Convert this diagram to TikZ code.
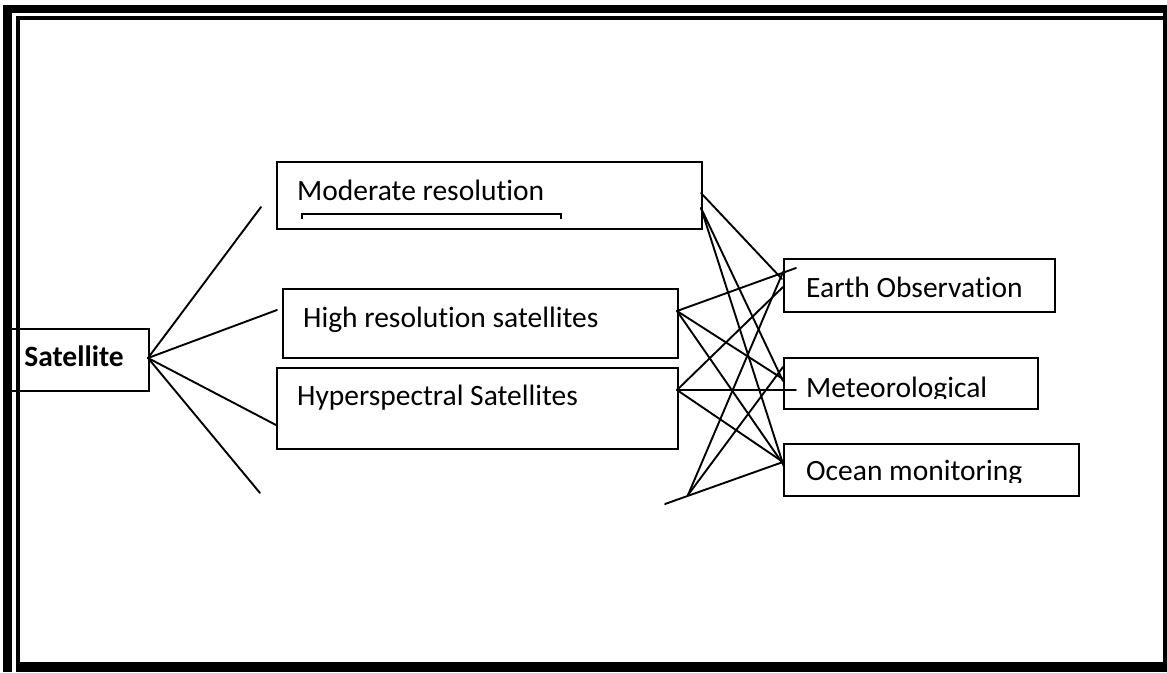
\documentclass[tikz,border=0pt]{standalone}
\usepackage{fontspec}
\setmainfont{Carlito}[Ligatures={NoCommon}]
\begin{document}
\begin{tikzpicture}[x=1pt,y=-1pt,
  box/.style={draw, line width=2pt, rectangle, inner sep=0pt, anchor=north west},
  lbl/.style={anchor=base west, inner sep=0pt, font=\fontsize{29.5}{33}\selectfont},
  wire/.style={line width=1.9pt, line cap=round}]
\useasboundingbox (0,0) rectangle (1167,672);

% double page frame
\fill (3,5) rectangle (12,672);
\fill (3,5) rectangle (1167,13);
\fill (1163,5) rectangle (1167,672);
\fill (16,16) rectangle (20,662);
\fill (16,16) rectangle (1167,20);
\fill (16,662) rectangle (1167,672);

% boxes
\node[box, minimum width=144pt, minimum height=62pt] (sat) at (4,328) {};
\node[box, minimum width=425pt, minimum height=67pt] (mod) at (276,161) {};
\node[box, minimum width=395pt, minimum height=69pt] (high) at (282,288) {};
\node[box, minimum width=401pt, minimum height=81pt] (hyp) at (276,367) {};
\node[box, minimum width=271pt, minimum height=53pt] (earth) at (783,258) {};
\node[box, minimum width=254pt, minimum height=51pt] (met) at (783,357) {};
\node[box, minimum width=295pt, minimum height=52pt] (ocean) at (783,443) {};

% labels
\node[lbl, anchor=base, font=\fontsize{29.5}{33}\selectfont\bfseries] (satT) at (74,366.5) {Satellite};
\node[lbl] (modT) at (297,200) {Moderate resolution};
\node[lbl] (highT) at (303,327) {High resolution satellites};
\node[lbl] (hypT) at (297,405) {Hyperspectral Satellites};
\node[lbl] (earthT) at (806,297) {Earth Observation};
\begin{scope}
  \clip (783,357) rectangle (1037,398);
  \node[lbl] (metT) at (806,397) {Meteorological};
\end{scope}
\begin{scope}
  \clip (783,443) rectangle (1078,482);
  \node[lbl] (oceanT) at (806,480) {Ocean monitoring};
\end{scope}

% bracket under the first label
\draw[line width=1.3pt] (302,219) -- (302,214) -- (561,214) -- (561,219);

% fan-out points
\coordinate (satR) at (148,358);
\coordinate (s1) at (261,207);
\coordinate (s2) at (277,310);
\coordinate (s3) at (276,425);
\coordinate (s4) at (260,493);
\coordinate (modA) at (701,193);
\coordinate (modB) at (701,208);
\coordinate (highR) at (677,311);
\coordinate (hypR) at (677,390);
\coordinate (low) at (688,495);
\coordinate (low0) at (665,504);

% arrival points
\coordinate (eA) at (782,279);
\coordinate (eB) at (783,272);
\coordinate (eC) at (783,287);
\coordinate (eX) at (796,268);
\coordinate (mA) at (783,381);
\coordinate (mB) at (783,379);
\coordinate (mC) at (783,367);
\coordinate (mX) at (796,390);
\coordinate (oA) at (784,467);
\coordinate (oB) at (783,464);
\coordinate (oC) at (783,462);

% satellite fan
\draw[wire] (satR) -- (s1);
\draw[wire] (satR) -- (s2);
\draw[wire] (satR) -- (s3);
\draw[wire] (satR) -- (s4);

% cross links
\draw[wire] (modA) -- (eA);
\draw[wire] (modB) -- (mA);
\draw[wire] (modB) -- (oA);
\draw[wire] (highR) -- (eX);
\draw[wire] (highR) -- (mB);
\draw[wire] (highR) -- (oB);
\draw[wire] (hypR) -- (eC);
\draw[wire] (hypR) -- (mX);
\draw[wire] (hypR) -- (oC);
\draw[wire] (low) -- (eB);
\draw[wire] (low) -- (mC);
\draw[wire] (low0) -- (oC);
\end{tikzpicture}
\end{document}
